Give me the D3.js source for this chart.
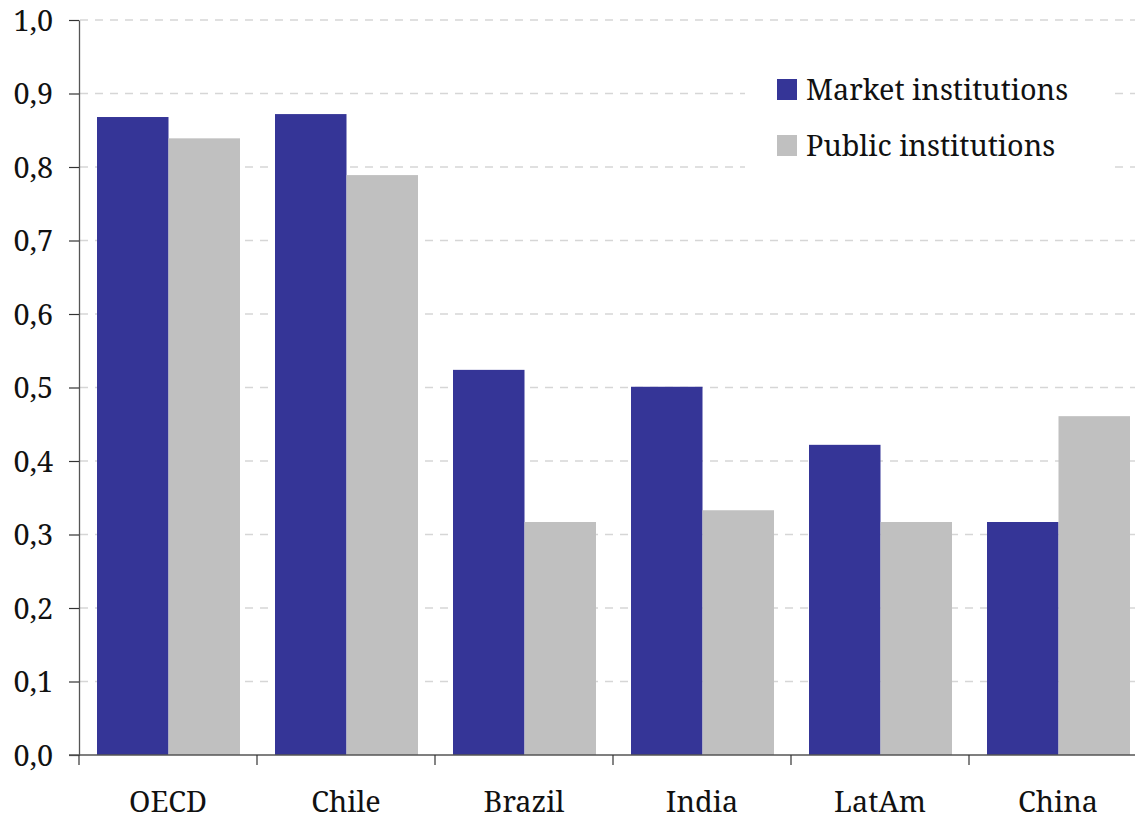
<!DOCTYPE html>
<html><head><meta charset="utf-8">
<script src="https://cdn.jsdelivr.net/npm/d3@7"></script>
<style>html,body{margin:0;padding:0;background:#fff;}svg{display:block;}</style>
</head><body>
<svg id="c" width="1135" height="820"></svg>
<script>
const categories = ["OECD","Chile","Brazil","India","LatAm","China"];
const seriesNames = ["Market institutions","Public institutions"];
const marketValues = [0.868, 0.872, 0.524, 0.501, 0.422, 0.317];
const publicValues = [0.839, 0.789, 0.317, 0.333, 0.317, 0.461];
const yTicks = [0,0.1,0.2,0.3,0.4,0.5,0.6,0.7,0.8,0.9,1.0];
const colors = ["#353597","#c0c0c0"];

(function(){
const svg = d3.select("#c");
const font = "Noto Serif";
const fsize = 28.8;
const mLeft = 79, mTop = 20, mBottom = 755, mRight = 1147;

const y = d3.scaleLinear().domain([0,1]).range([mBottom, mTop]);
const x0 = d3.scaleBand().domain(categories).range([mLeft, mRight]).padding(0);
const x1 = d3.scaleBand().domain(seriesNames).range([18, x0.bandwidth()-17]).padding(0);

// gridlines
svg.append("g").selectAll("line").data(yTicks.filter(d=>d>0)).join("line")
  .attr("x1", mLeft+1).attr("x2", 1135)
  .attr("y1", d=>y(d)).attr("y2", d=>y(d))
  .attr("stroke", "#d6d6d6").attr("stroke-width", 1.5)
  .attr("stroke-dasharray", "8,7");

// bars
const rows = categories.map((c,i)=>({cat:c, vals:[marketValues[i], publicValues[i]]}));
const g = svg.append("g");
rows.forEach(r=>{
  r.vals.forEach((v,j)=>{
    g.append("rect")
      .attr("x", x0(r.cat)+x1(seriesNames[j]))
      .attr("width", x1.bandwidth())
      .attr("y", y(v))
      .attr("height", y(0)-y(v))
      .attr("fill", colors[j]);
  });
});

// y axis
const yAxis = d3.axisLeft(y).tickValues(yTicks).tickSize(10).tickSizeOuter(0)
  .tickFormat(d=>d3.format(".1f")(d).replace(".", ","));
const ya = svg.append("g").attr("transform", `translate(${mLeft},0)`).call(yAxis)
  .attr("font-family", font).attr("font-size", fsize);
ya.select(".domain").attr("stroke", "#555").attr("stroke-width", 1.3);
ya.selectAll(".tick line").attr("stroke", "#333").attr("stroke-width", 1.2);
ya.selectAll(".tick text").attr("x", -26).attr("dy", "0.36em").attr("fill", "#111");

// x axis
const xa = svg.append("g").attr("transform", `translate(0,${mBottom})`)
  .attr("font-family", font).attr("font-size", fsize);
xa.append("line").attr("x1", mLeft-10).attr("x2", 1135).attr("y1",0).attr("y2",0)
  .attr("stroke", "#555").attr("stroke-width", 1.3);
xa.selectAll("line.tk").data(categories).join("line").attr("class","tk")
  .attr("x1", d=>x0(d)).attr("x2", d=>x0(d)).attr("y1", 0).attr("y2", 10)
  .attr("stroke", "#333").attr("stroke-width", 1.2);
xa.selectAll("text").data(categories).join("text")
  .attr("x", d=>x0(d)+x0.bandwidth()/2).attr("y", 57)
  .attr("text-anchor", "middle").attr("fill", "#111")
  .text(d=>d);

// legend
const lg = svg.append("g").attr("font-family", font).attr("font-size", fsize);
lg.append("rect").attr("x", 745).attr("y", 58).attr("width", 365).attr("height", 122).attr("fill", "#fff");
seriesNames.forEach((s,i)=>{
  const yy = 79 + i*56;
  lg.append("rect").attr("x", 777).attr("y", yy).attr("width", 20).attr("height", 21).attr("fill", colors[i]);
  lg.append("text").attr("x", 806).attr("y", yy+21).attr("fill", "#111").text(s);
});
})();
</script>
</body></html>
